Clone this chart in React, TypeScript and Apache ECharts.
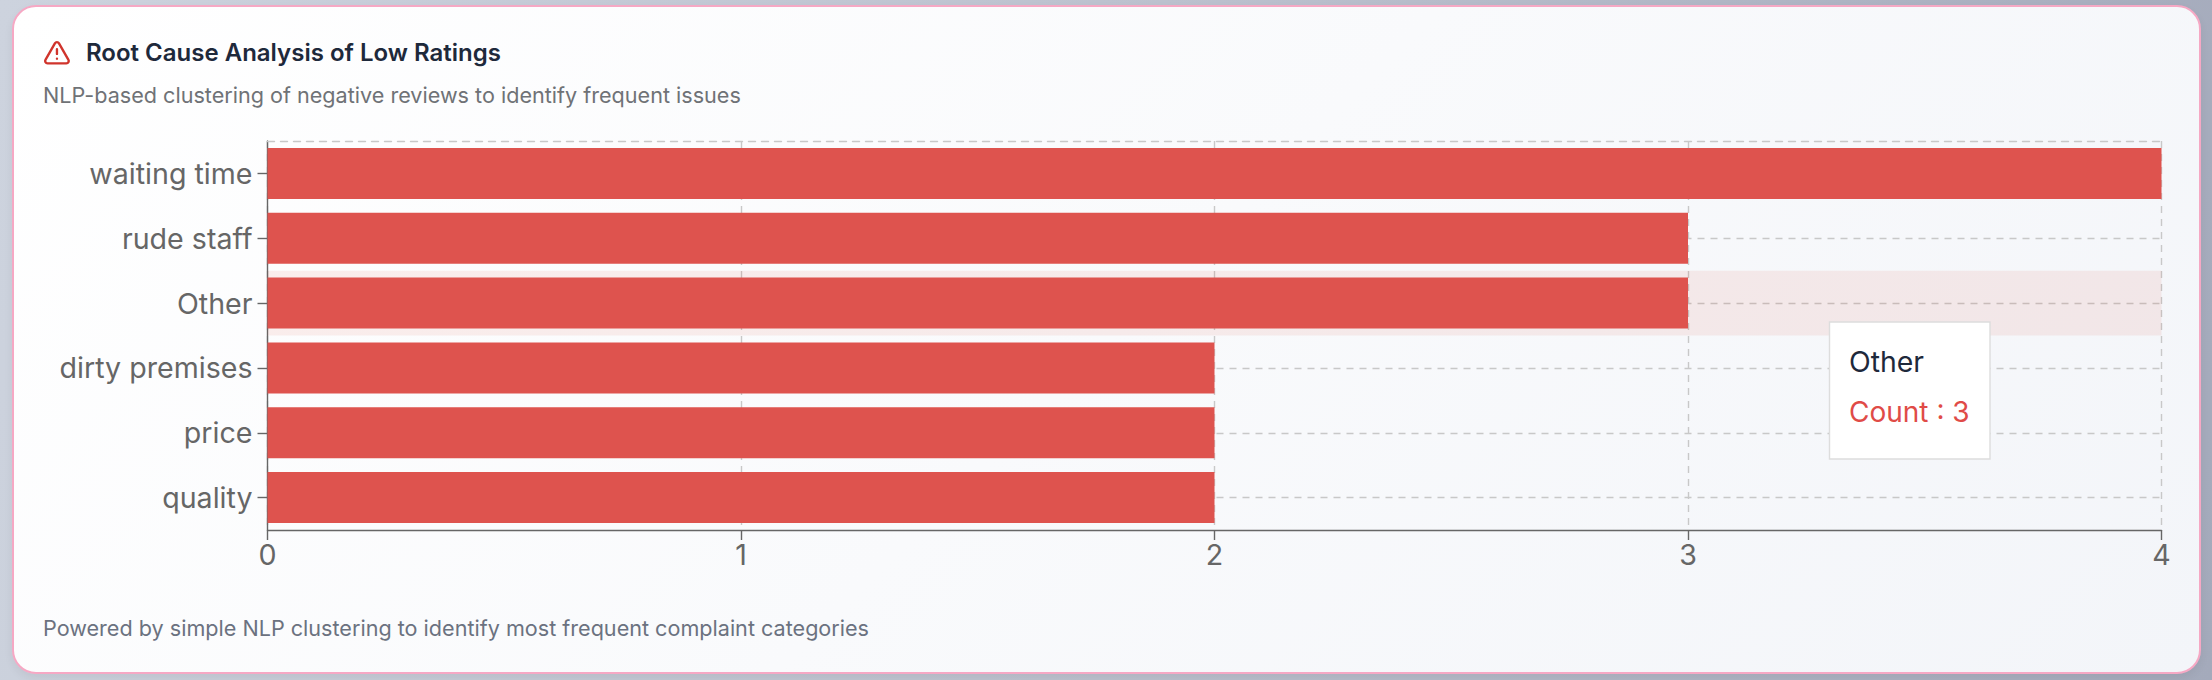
import React, { useEffect, useRef } from "react";
import * as echarts from "echarts";

const categories = ["waiting time", "rude staff", "Other", "dirty premises", "price", "quality"];
const counts = [4, 3, 3, 2, 2, 2];
const xTicks = [0, 1, 2, 3, 4];
const titleText = "Root Cause Analysis of Low Ratings";
const subtitleText = "NLP-based clustering of negative reviews to identify frequent issues";
const footerText = "Powered by simple NLP clustering to identify most frequent complaint categories";
const activeIndex = 2;
const tooltipLabel = "Count : 3";

const FONT = "Inter";
const ICON = "m21.73 18-8-14a2 2 0 0 0-3.48 0l-8 14A2 2 0 0 0 4 21h16a2 2 0 0 0 1.73-3M12 9v4M12 17h.01";

export default function App() {
  const ref = useRef<HTMLDivElement>(null);
  useEffect(() => {
    echarts.graphic.registerShape("alertIcon", echarts.graphic.extendPath(ICON, {}));
    const chart = echarts.init(ref.current!, null, { renderer: "svg", width: 2212, height: 680 });
    const dash = { type: [7, 6] as any, color: "#c8c8c8", width: 1.4 };
    chart.setOption({
      animation: false,
      grid: { left: 267.5, right: 2212 - 2161.5, top: 141, height: 389, containLabel: false },
      tooltip: {
        trigger: "axis",
        showContent: false,
        axisPointer: { type: "shadow", z: 1, shadowStyle: { color: "rgba(215,45,30,0.08)", opacity: 1 } },
      },
      xAxis: [
        {
          type: "value",
          min: 0,
          max: xTicks[xTicks.length - 1],
          interval: 1,
          axisLine: { show: true, lineStyle: { color: "#666666", width: 1.4 } },
          axisTick: { show: true, length: 10, lineStyle: { color: "#666666", width: 1.4 } },
          axisLabel: { color: "#666666", fontSize: 28.6, fontFamily: FONT, margin: 10, showMinLabel: true, showMaxLabel: true },
          splitLine: { show: true, lineStyle: dash },
        },
        {
          type: "value",
          position: "top",
          min: 0,
          max: 4,
          interval: 1,
          axisLine: { show: true, onZero: false, lineStyle: dash },
          axisTick: { show: false },
          axisLabel: { show: false },
          splitLine: { show: false },
        },
      ],
      yAxis: {
        type: "category",
        inverse: true,
        data: categories,
        axisLine: { show: true, lineStyle: { color: "#666666", width: 1.4 } },
        axisTick: { show: true, alignWithLabel: true, length: 10, lineStyle: { color: "#666666", width: 1.4 } },
        axisLabel: { color: "#666666", fontSize: 28.6, fontFamily: FONT, margin: 15, padding: [2, 0, 0, 0] },
        splitLine: { show: true, alignWithLabel: true, lineStyle: dash },
      },
      series: [
        {
          type: "bar",
          name: "Count",
          data: counts,
          barWidth: 51,
          itemStyle: { color: "#de534e" },
          emphasis: { disabled: true },
          z: 5,
        },
      ],
      graphic: [
        {
          type: "alertIcon",
          x: 42.8,
          y: 38.6,
          scaleX: 1.18,
          scaleY: 1.18,
          style: { fill: "none", stroke: "#d0342c", lineWidth: 2, lineCap: "round", lineJoin: "round" },
        },
        {
          type: "text",
          x: 86,
          y: 52,
          style: { text: titleText, fontFamily: FONT, fontSize: 24, fontWeight: 600, fill: "#1e293b", verticalAlign: "middle" },
        },
        {
          type: "text",
          x: 43,
          y: 95,
          style: { text: subtitleText, fontFamily: FONT, fontSize: 21.6, fill: "#6f7276", verticalAlign: "middle" },
        },
        {
          type: "text",
          x: 43,
          y: 628,
          style: { text: footerText, fontFamily: FONT, fontSize: 21.6, fill: "#6b7280", verticalAlign: "middle" },
        },
        {
          type: "rect",
          z: 100,
          shape: { x: 1829.5, y: 322, width: 160.5, height: 137 },
          style: { fill: "#ffffff", stroke: "#dddddd", lineWidth: 1.4 },
        },
        {
          type: "text",
          z: 101,
          x: 1849,
          y: 361.5,
          style: { text: categories[activeIndex], fontFamily: FONT, fontSize: 28.4, fill: "#1e293b", verticalAlign: "middle" },
        },
        {
          type: "text",
          z: 101,
          x: 1849,
          y: 411.5,
          style: { text: tooltipLabel, fontFamily: FONT, fontSize: 28, fill: "#e04b47", verticalAlign: "middle" },
        },
      ],
    });
    chart.dispatchAction({ type: "showTip", seriesIndex: 0, dataIndex: activeIndex });
    return () => chart.dispose();
  }, []);

  return (
    <div
      style={{
        position: "fixed",
        left: 0,
        top: 0,
        width: 2212,
        height: 680,
        overflow: "hidden",
        background: "linear-gradient(100deg, #cdd3de 0%, #bcc1ce 50%, #a4aabb 100%)",
      }}
    >
      <div
        style={{
          position: "absolute",
          left: 12,
          top: 5,
          width: 2189,
          height: 669,
          boxSizing: "border-box",
          border: "2px solid #f6a8c4",
          borderRadius: 24,
          background: "linear-gradient(135deg, #ffffff 0%, #f3f5f9 100%)",
          boxShadow: "0 4px 10px rgba(0,0,0,0.06)",
        }}
      />
      <div ref={ref} style={{ position: "absolute", left: 0, top: 0, width: 2212, height: 680 }} />
    </div>
  );
}
